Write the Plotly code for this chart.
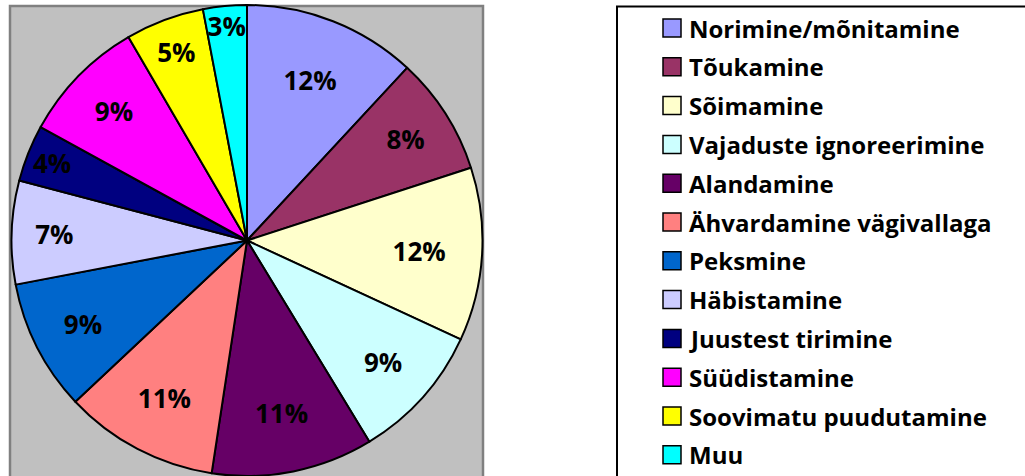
import plotly.graph_objects as go

# ---- data ----
labels = [
    "Norimine/mõnitamine",
    "Tõukamine",
    "Sõimamine",
    "Vajaduste ignoreerimine",
    "Alandamine",
    "Ähvardamine vägivallaga",
    "Peksmine",
    "Häbistamine",
    "Juustest tirimine",
    "Süüdistamine",
    "Soovimatu puudutamine",
    "Muu",
]
values = [11.9, 8.1, 11.9, 9.4, 11.1, 10.6, 9.0, 7.1, 3.9, 8.6, 5.4, 3.0]
colors = [
    "#9999FF", "#993366", "#FFFFCC", "#CCFFFF", "#660066", "#FF8080",
    "#0066CC", "#CCCCFF", "#000080", "#FF00FF", "#FFFF00", "#00FFFF",
]

W, H = 1025, 476
FONT = "Open Sans"


def px(x):
    return x / W


def py(y):
    return 1 - y / H


fig = go.Figure()
fig.add_trace(go.Pie(
    labels=labels,
    values=values,
    sort=False,
    direction="clockwise",
    rotation=0,
    marker=dict(colors=colors, line=dict(color="black", width=2)),
    texttemplate="%{percent:.0%}",
    textposition="inside",
    insidetextorientation="horizontal",
    textfont=dict(family=FONT, size=26, color="black", weight="bold"),
    domain=dict(x=[px(10), px(484)], y=[0, py(5)]),
    showlegend=False,
    hoverinfo="label+percent",
))

shapes = [
    # plot area (gray)
    dict(type="rect", xref="paper", yref="paper", layer="below",
         x0=px(10), x1=px(483), y0=-0.05, y1=py(6),
         fillcolor="#C0C0C0", line=dict(color="#808080", width=2.5)),
    # legend box
    dict(type="rect", xref="paper", yref="paper", layer="below",
         x0=px(617), x1=1.02, y0=-0.05, y1=py(6.5),
         fillcolor="white", line=dict(color="black", width=2)),
]
annotations = []
for i, (lab, col) in enumerate(zip(labels, colors)):
    yc = 28 + i * 38.8
    shapes.append(dict(type="rect", xref="paper", yref="paper",
                       x0=px(663), x1=px(681), y0=py(yc + 9), y1=py(yc - 9),
                       fillcolor=col, line=dict(color="black", width=1.5)))
    annotations.append(dict(x=px(687), y=py(yc), xref="paper", yref="paper",
                            text=lab, showarrow=False, xanchor="left",
                            yanchor="middle",
                            font=dict(family=FONT, size=24, color="black",
                                      weight="bold")))

fig.update_layout(
    width=W, height=H,
    margin=dict(l=0, r=0, t=0, b=0),
    paper_bgcolor="white",
    plot_bgcolor="white",
    shapes=shapes,
    annotations=annotations,
    showlegend=False,
    uniformtext=dict(minsize=26, mode="show"),
)

fig.write_html(
    "out.html",
    config={"displayModeBar": False},
    post_script="document.body.style.margin='0';document.body.style.overflow='hidden';",
)
